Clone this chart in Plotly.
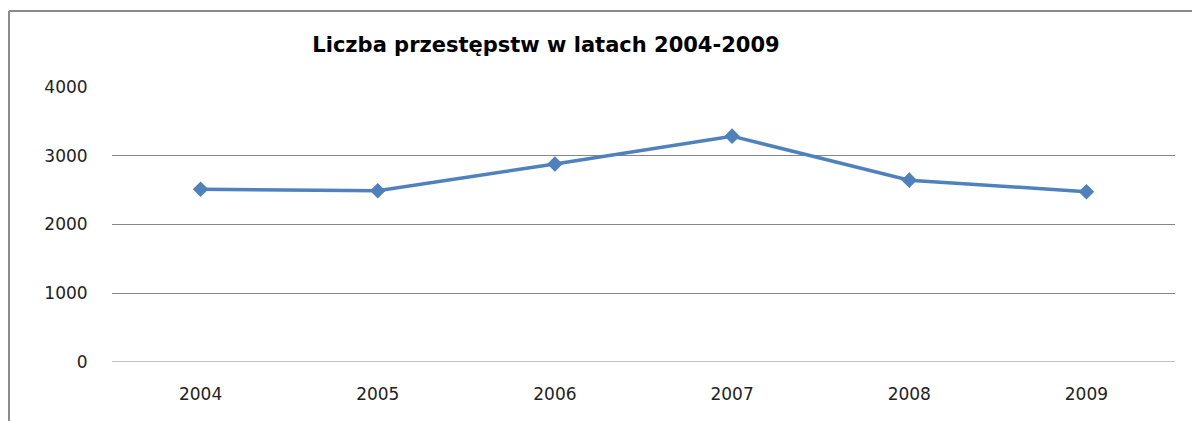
import plotly.graph_objects as go

years = ["2004", "2005", "2006", "2007", "2008", "2009"]
crimes = [2512, 2490, 2880, 3285, 2645, 2477]
y_ticks = [0, 1000, 2000, 3000, 4000]
title_text = "Liczba przestępstw w latach 2004-2009"

W, H = 1192, 421
L, R, T, B = 112, 17, 87, 59
pw, ph = W - L - R, H - T - B

fig = go.Figure()
fig.add_trace(go.Scatter(
    x=years, y=crimes, mode="lines+markers",
    line=dict(color="#4F81BD", width=3.5),
    marker=dict(symbol="diamond", size=12, color="#4F81BD"),
    showlegend=False,
))

def px_x(p):
    return (p - L) / pw

def px_y(p):
    return (H - B - p) / ph

fig.update_layout(
    width=W, height=H,
    margin=dict(l=L, r=R, t=T, b=B),
    paper_bgcolor="white", plot_bgcolor="white",
    title=dict(text=title_text, x=px_x(546), xref="paper", xanchor="center",
               y=1 - 45 / H, yref="container", yanchor="middle",
               font=dict(family="DejaVu Sans", size=21, color="#000000", weight="bold")),
    xaxis=dict(type="category", range=[-0.5, 5.5], showgrid=False, zeroline=False,
               showline=False, ticks="outside", ticklen=17, tickcolor="rgba(0,0,0,0)",
               tickfont=dict(family="DejaVu Sans", size=17, color="#222222")),
    yaxis=dict(range=[0, 4000], tickvals=y_ticks, showgrid=True, gridcolor="#868686",
               gridwidth=1, zeroline=False, showline=False, ticks="outside", ticklen=20,
               tickcolor="rgba(0,0,0,0)",
               tickfont=dict(family="DejaVu Sans", size=17, color="#222222")),
    shapes=[
        dict(type="line", xref="paper", yref="paper", x0=px_x(9), x1=px_x(9),
             y0=px_y(11), y1=px_y(430), line=dict(color="#8a8a8a", width=2)),
        dict(type="line", xref="paper", yref="paper", x0=px_x(9), x1=px_x(1200),
             y0=px_y(11), y1=px_y(11), line=dict(color="#8a8a8a", width=2)),
        dict(type="line", xref="paper", yref="y", x0=0, x1=1, y0=0, y1=0,
             line=dict(color="#868686", width=1)),
    ],
)

fig.write_html(
    "out.html",
    config={"displayModeBar": False},
    post_script="document.body.style.margin='0';document.body.style.overflow='hidden';",
)
